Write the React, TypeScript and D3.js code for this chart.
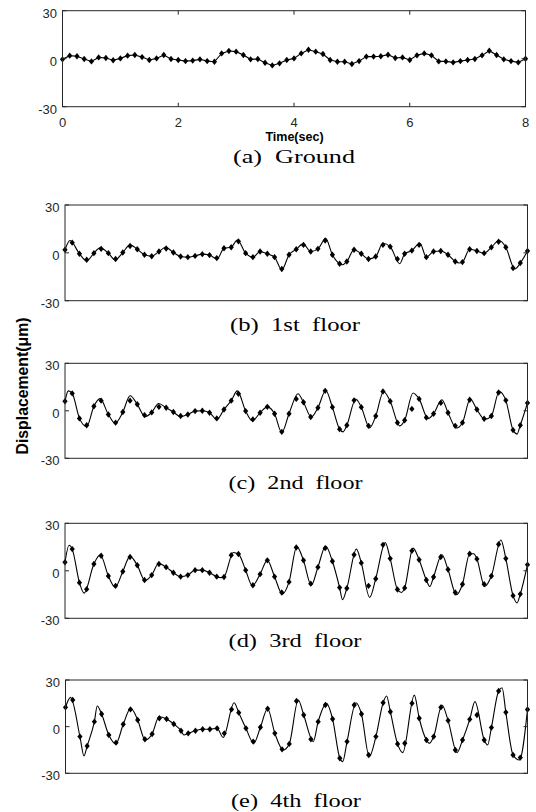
import * as d3 from 'd3'
import React, { useEffect, useRef } from 'react'

// measured samples every 0.125 s over 8 s (65 points per record)
const sampleStep = 0.125
const timeTicks = [0, 2, 4, 6, 8]
const dispTicks = [-30, 0, 30]

const captions = ['(a)  Ground', '(b)  1st  floor', '(c)  2nd  floor', '(d)  3rd  floor', '(e)  4th  floor']

const groundValues = [
  -0.4, 1.9, 1.5, -0.2, -1.7, 0.8, 0.4, -1.0, 0.2, 1.9, 2.3, 1.0, -0.8, 0.2, 2.3, -0.2,
  -0.8, -1.5, -1.2, -0.4, -1.5, -1.9, 3.3, 4.8, 4.4, 2.3, -0.4, -0.2, -2.5, -4.2, -2.9, -0.8,
  0.2, 3.3, 5.6, 4.4, 2.9, -0.8, -1.9, -1.9, -3.3, -1.5, 1.3, 1.3, 1.5, 2.5, 0.4, 0.8,
  -0.8, 2.1, 3.3, 2.1, -1.7, -1.7, -2.3, -1.5, -0.8, -0.2, 2.1, 5.0, 2.3, -0.4, -1.5, -2.3, 0
]

const floor1Values = [
  1.9, 6.4, -0.6, -4.3, -0.2, 2.5, -0.2, -3.9, 0.2, 4.3, 2.3, -1.2, -2.1, 0.8, 2.7, 0.2,
  -2.3, -2.7, -1.9, -0.8, -1.4, -3.3, 2.9, 3.5, 7.2, -0.2, -2.7, 0.8, -0.6, -2.7, -10.1, -1.2,
  2.3, 5.0, 0.8, 2.5, 7.7, -1.2, -6.8, -5.4, 1.9, -0.6, -3.9, -2.3, 5.0, 3.9, -3.9, -0.6,
  1.4, 5.0, -2.7, 0.8, 1.2, -1.2, -5.4, -5.8, 2.3, 1.2, -0.2, 3.5, 7.0, 3.5, -9.5, -6.4, 1.2
]

const floor2Values = [
  6.0, 11.0, -4.8, -9.1, 2.9, 6.4, -2.3, -7.5, -0.8, 6.4, 4.1, -2.7, -1.0, 2.5, 1.9, -0.8,
  -3.3, -2.3, -0.2, 0, -1.2, -4.8, 0.8, 6.4, 10.8, -0.2, -5.4, -1.2, 2.5, -1.9, -13.3, -1.9,
  7.5, 5.4, -3.9, 1.9, 12.6, 2.3, -11.6, -9.1, 6.6, 2.3, -9.5, -3.3, 12.2, 6.0, -7.5, -6.0,
  1.2, 7.5, -4.3, -1.9, 5.0, -1.2, -9.5, -7.5, 7.0, 0.8, -5.0, -3.3, 11.6, 6.6, -12.2, -9.1, 5.0
]

const floor3Values = [
  5.4, 13.7, -7.5, -11.6, 4.3, 9.5, -3.3, -9.5, -0.4, 8.7, 3.5, -5.8, -2.7, 4.3, 2.3, -1.2,
  -3.7, -2.7, 0.4, 0.4, -1.2, -3.7, -3.9, 9.9, 10.6, 0.4, -9.1, -2.1, 6.6, -3.7, -13.7, -7.0,
  14.7, 6.6, -8.1, 2.3, 14.3, 6.0, -10.6, -11.0, 10.1, 5.0, -9.5, -5.0, 16.4, 7.7, -11.8, -10.8,
  12.6, 7.0, -5.8, -3.9, 8.7, 0.8, -13.7, -8.5, 10.8, 7.5, -8.5, -3.3, 16.8, 7.7, -15.7, -14.7, 3.9
]

const floor4Values = [
  12.4, 17.1, -6.4, -12.4, 3.2, 8.1, -5.4, -10.3, 1.5, 11.1, 4.3, -8.1, -4.7, 5.4, 4.9, 1.7,
  -2.6, -4.3, -2.6, -1.7, -1.7, -1.1, -4.3, 11.1, 9.0, -1.1, -9.6, -0.4, 11.5, -4.3, -14.6, -11.1,
  16.5, 7.5, -8.1, 3.2, 13.9, 4.9, -20.3, -9.6, 13.9, 8.1, -18.2, -6.4, 15.4, 9.6, -11.1, -10.7,
  15.0, 5.4, -8.6, -6.4, 12.4, 3.9, -15.0, -8.6, 4.7, 7.5, -8.6, -0.6, 22.9, 9.2, -18.2, -19.9, 11.0
]

// peaks and troughs of the continuous (analysis) curve between samples: [time, displacement]
const floor1Peaks = [
  [0.087, 7.7], [0.375, -5.0], [0.606, 3.1], [0.866, -4.3], [1.126, 5.0], [1.74, 3.5],
  [2.63, -3.9], [2.98, 8.1], [3.75, -10.6], [4.12, 5.6], [4.51, 8.9], [4.8, -7.5],
  [5.5, 6.0], [5.79, -6.8], [6.14, 6.0], [6.82, -6.4], [7.51, 7.7], [7.78, -10.1]
]

const floor2Peaks = [
  [0.057, 12.6], [0.375, -9.9], [0.606, 7.7], [0.866, -7.9], [1.126, 9.5], [1.385, -3.7],
  [1.62, 4.6], [2.0, -3.7], [2.625, -5.4], [2.98, 12.6], [3.24, -6.4], [3.75, -13.7],
  [4.03, 10.8], [4.26, -3.9], [4.51, 12.8], [4.81, -13.3], [5.03, 7.5], [5.27, -10.8],
  [5.51, 12.2], [5.79, -9.5], [6.02, 11.2], [6.28, -5.0], [6.52, 7.0], [6.77, -10.8],
  [7.01, 7.5], [7.26, -5.4], [7.51, 12.2], [7.82, -14.7]
]

const floor3Peaks = [
  [0.07, 16.1], [0.33, -14.1], [0.61, 10.1], [0.866, -10.4], [1.126, 9.1], [1.385, -6.2],
  [1.62, 4.6], [2.0, -3.7], [2.7, -4.3], [2.91, 11.6], [3.24, -9.5], [3.76, -14.7],
  [4.01, 15.3], [4.26, -9.1], [4.51, 15.7], [4.8, -18.2], [5.04, 13.7], [5.27, -16.8],
  [5.54, 17.8], [5.82, -13.7], [6.02, 14.3], [6.31, -9.9], [6.52, 10.1], [6.77, -15.1],
  [7.07, 10.8], [7.26, -9.9], [7.54, 19.5], [7.82, -20.3]
]

const floor4Peaks = [
  [0.087, 18.8], [0.32, -18.8], [0.55, 13.3], [0.87, -11.1], [1.13, 11.8], [1.38, -8.6],
  [1.62, 6.4], [2.05, -5.4], [2.73, -6.9], [2.92, 15.4], [3.26, -10.7], [3.77, -15.0],
  [4.03, 17.1], [4.29, -9.6], [4.52, 15.0], [4.8, -22.5], [5.03, 15.4], [5.26, -19.3],
  [5.56, 19.7], [5.84, -16.7], [6.04, 20.3], [6.3, -10.7], [6.52, 13.9], [6.78, -16.7],
  [7.09, 16.1], [7.31, -11.8], [7.56, 25.0], [7.86, -21.4]
]

const panels = [
  { caption: captions[0], values: groundValues, peaks: [], top: 10.7, bottom: 106.7, left: 62.5, right: 525.5, capX: 294, capY: 157, capW: 122, timeAxis: true },
  { caption: captions[1], values: floor1Values, peaks: floor1Peaks, top: 205, bottom: 300.7, left: 65, right: 527.5, capX: 295, capY: 325, capW: 130, timeAxis: false },
  { caption: captions[2], values: floor2Values, peaks: floor2Peaks, top: 363.3, bottom: 458.3, left: 65, right: 527.5, capX: 295.5, capY: 483, capW: 134, timeAxis: false },
  { caption: captions[3], values: floor3Values, peaks: floor3Peaks, top: 523.3, bottom: 618.3, left: 65, right: 527.5, capX: 295, capY: 641, capW: 133, timeAxis: false },
  { caption: captions[4], values: floor4Values, peaks: floor4Peaks, top: 680, bottom: 773.3, left: 65.5, right: 527.5, capX: 296, capY: 801, capW: 130, timeAxis: false },
]

const sans = '"Liberation Sans", Arial, sans-serif'
const serif = '"Liberation Serif", "Times New Roman", serif'
const axisColor = '#262626'

export default function App() {
  const ref = useRef(null)

  useEffect(() => {
    const svg = d3.select(ref.current)
    svg.selectAll('*').remove()

    panels.forEach((p, k) => {
      const x = d3.scaleLinear().domain([0, 8]).range([p.left, p.right])
      const y = d3.scaleLinear().domain([-30, 30]).range([p.bottom, p.top])
      const g = svg.append('g').attr('class', 'panel-' + k)

      const samples = p.values.map((v, i) => [i * sampleStep, v])
      // continuous curve: samples plus the extra extrema, samples too close to an extremum dropped
      const curvePts = samples
        .filter(s => !p.peaks.some(q => Math.abs(q[0] - s[0]) < 0.045))
        .concat(p.peaks)
        .sort((a, b) => a[0] - b[0])

      const clipId = 'clip-' + k
      g.append('clipPath').attr('id', clipId)
        .append('rect')
        .attr('x', p.left).attr('y', p.top)
        .attr('width', p.right - p.left).attr('height', p.bottom - p.top)

      const line = d3.line()
        .x(d => x(d[0]))
        .y(d => y(d[1]))
        .curve(p.peaks.length ? d3.curveMonotoneX : d3.curveLinear)

      g.append('path')
        .datum(curvePts)
        .attr('d', line)
        .attr('clip-path', 'url(#' + clipId + ')')
        .style('fill', 'none')
        .style('stroke', '#000')
        .style('stroke-width', 1.1)

      g.selectAll('path.mk')
        .data(samples)
        .enter().append('path')
        .attr('class', 'mk')
        .attr('d', 'M0,-3.2L2.6,0L0,3.2L-2.6,0Z')
        .attr('transform', d => 'translate(' + x(d[0]) + ',' + y(d[1]) + ')')
        .style('fill', '#000')

      // box
      g.append('rect')
        .attr('x', p.left).attr('y', p.top)
        .attr('width', p.right - p.left).attr('height', p.bottom - p.top)
        .style('fill', 'none')
        .style('stroke', axisColor)
        .style('stroke-width', 1)

      // y ticks (inward, both sides) and labels
      dispTicks.forEach(t => {
        g.append('line')
          .attr('x1', p.left).attr('x2', p.left + 4)
          .attr('y1', y(t)).attr('y2', y(t))
          .style('stroke', axisColor)
        g.append('line')
          .attr('x1', p.right).attr('x2', p.right - 4)
          .attr('y1', y(t)).attr('y2', y(t))
          .style('stroke', axisColor)
        g.append('text')
          .attr('x', p.left - 5.5)
          .attr('y', y(t) + 2.5)
          .attr('text-anchor', 'end')
          .attr('dominant-baseline', 'central')
          .style('font-family', sans)
          .style('font-size', '13px')
          .style('fill', axisColor)
          .text(t)
      })

      if (p.timeAxis) {
        timeTicks.forEach(t => {
          g.append('line')
            .attr('x1', x(t)).attr('x2', x(t))
            .attr('y1', p.bottom).attr('y2', p.bottom - 4)
            .style('stroke', axisColor)
          g.append('line')
            .attr('x1', x(t)).attr('x2', x(t))
            .attr('y1', p.top).attr('y2', p.top + 4)
            .style('stroke', axisColor)
          g.append('text')
            .attr('x', x(t))
            .attr('y', p.bottom + 15.5)
            .attr('text-anchor', 'middle')
            .attr('dominant-baseline', 'central')
            .style('font-family', sans)
            .style('font-size', '13px')
            .style('fill', axisColor)
            .text(t)
        })
        g.append('text')
          .attr('x', 294.5)
          .attr('y', p.bottom + 30.5)
          .attr('text-anchor', 'middle')
          .attr('dominant-baseline', 'central')
          .style('font-family', sans)
          .style('font-size', '12.5px')
          .style('font-weight', 'bold')
          .style('fill', '#000')
          .text('Time(sec)')
      }

      g.append('text')
        .attr('x', p.capX)
        .attr('y', p.capY)
        .attr('text-anchor', 'middle')
        .attr('dominant-baseline', 'central')
        .attr('textLength', p.capW)
        .attr('lengthAdjust', 'spacingAndGlyphs')
        .style('font-family', serif)
        .style('font-size', '18.5px')
        .style('white-space', 'pre')
        .style('fill', '#000')
        .text(p.caption)
    })

    svg.append('text')
      .attr('transform', 'translate(22.5,386) rotate(-90)')
      .attr('text-anchor', 'middle')
      .attr('dominant-baseline', 'central')
      .style('font-family', sans)
      .style('font-size', '15.8px')
      .style('font-weight', 'bold')
      .style('fill', '#000')
      .text('Displacement(μm)')
  }, [])

  return (
    <svg
      ref={ref}
      width={536}
      height={812}
      style={{ position: 'absolute', left: 0, top: 0, background: '#fff' }}
    />
  )
}
